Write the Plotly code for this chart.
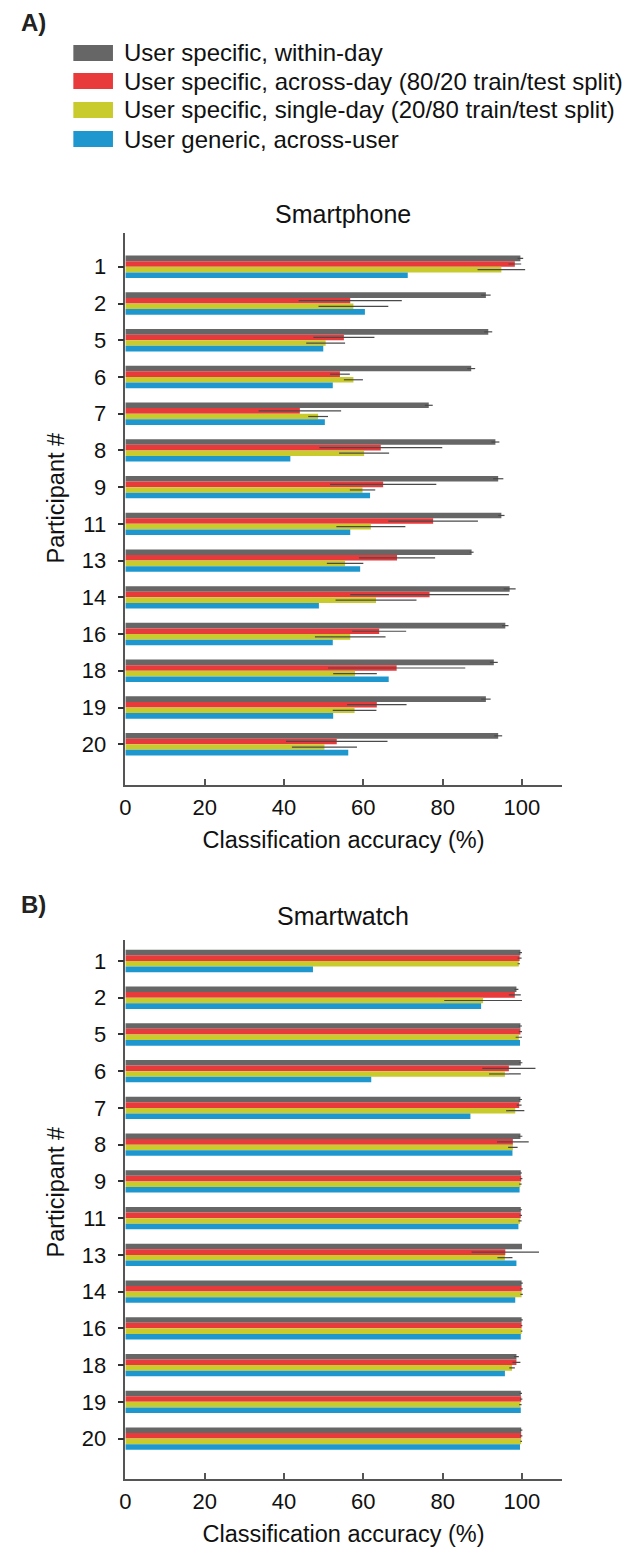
import plotly.graph_objects as go

participants = ["1", "2", "5", "6", "7", "8", "9", "11", "13", "14", "16", "18", "19", "20"]

series_names = [
    "User specific, within-day",
    "User specific, across-day (80/20 train/test split)",
    "User specific, single-day (20/80 train/test split)",
    "User generic, across-user",
]
series_colors = ["#666666", "#E8393B", "#C9CA2C", "#1E97CF"]

# Smartphone
phone_within = [99.6, 90.9, 91.5, 87.2, 76.5, 93.3, 94.0, 94.8, 87.3, 96.9, 95.8, 92.9, 90.9, 94.0]
phone_within_err = [0.7, 1.2, 1.0, 1.0, 1.0, 1.0, 1.3, 0.8, 0.5, 1.5, 0.8, 1.0, 1.2, 1.0]
phone_across = [98.2, 56.7, 55.1, 54.1, 44.0, 64.4, 65.0, 77.6, 68.5, 76.7, 64.0, 68.4, 63.4, 53.3]
phone_across_err = [1.6, 13.0, 7.7, 2.5, 10.4, 15.5, 13.4, 11.3, 9.6, 20.0, 6.8, 17.3, 7.5, 12.8]
phone_single = [94.8, 57.5, 50.5, 57.5, 48.6, 60.2, 59.8, 61.9, 55.4, 63.2, 56.7, 57.9, 57.8, 50.2]
phone_single_err = [6.0, 8.8, 4.9, 2.4, 2.5, 6.3, 3.2, 8.7, 4.6, 10.2, 8.9, 5.5, 5.5, 8.2]
phone_generic = [71.2, 60.4, 49.9, 52.3, 50.3, 41.6, 61.7, 56.7, 59.2, 48.8, 52.3, 66.4, 52.4, 56.2]

# Smartwatch
watch_within = [99.6, 98.6, 99.6, 99.7, 99.6, 99.6, 99.7, 99.7, 100.0, 99.9, 99.9, 98.6, 99.7, 99.8]
watch_within_err = [0.4, 0.5, 0.4, 0.4, 0.4, 0.5, 0.3, 0.3, 0.0, 0.3, 0.3, 0.6, 0.3, 0.3]
watch_across = [99.4, 98.2, 99.6, 96.7, 99.3, 97.7, 99.8, 99.7, 95.8, 99.9, 99.9, 98.6, 99.8, 99.8]
watch_across_err = [0.5, 1.5, 0.4, 6.7, 0.6, 4.0, 0.3, 0.3, 8.5, 0.3, 0.2, 1.0, 0.3, 0.3]
watch_single = [99.2, 90.2, 99.2, 95.7, 98.3, 97.7, 99.6, 99.5, 95.7, 99.9, 99.9, 97.5, 99.6, 99.8]
watch_single_err = [0.3, 9.8, 0.8, 4.0, 2.3, 1.2, 0.3, 0.4, 1.9, 0.3, 0.2, 0.7, 0.3, 0.2]
watch_generic = [47.3, 89.7, 99.5, 62.0, 87.0, 97.6, 99.4, 99.1, 98.6, 98.3, 99.7, 95.7, 99.7, 99.5]

x_ticks = [0, 20, 40, 60, 80, 100]

W, H = 628, 1547
FONT = "Arial, Liberation Sans, sans-serif"

phone_vals = [phone_within, phone_across, phone_single, phone_generic]
phone_errs = [phone_within_err, phone_across_err, phone_single_err, None]
watch_vals = [watch_within, watch_across, watch_single, watch_generic]
watch_errs = [watch_within_err, watch_across_err, watch_single_err, None]

fig = go.Figure()


def add_panel(vals, errs, xa, ya):
    for i in range(4):
        err = None
        if errs[i] is not None:
            err = dict(type="data", array=errs[i], visible=True, color="#4a4a4a",
                       thickness=1.2, width=0)
        fig.add_trace(go.Bar(
            y=participants, x=vals[i], orientation="h", name=series_names[i],
            marker=dict(color=series_colors[i], line=dict(width=0)),
            error_x=err, xaxis=xa, yaxis=ya, showlegend=False,
            offsetgroup=str(i),
        ))


add_panel(phone_vals, phone_errs, "x", "y")
add_panel(watch_vals, watch_errs, "x2", "y2")


def py(ypx):
    return 1 - ypx / H


def px(xpx):
    return xpx / W


x_dom = [px(120.5), px(561)]
TICKF = dict(family=FONT, size=22, color="#111111")
TITLEF = dict(family=FONT, size=23.5, color="#111111")
axis_common = dict(showline=True, linecolor="#555555", linewidth=1.6,
                   showgrid=False, zeroline=False, tickfont=TICKF)


def xaxis_cfg(anchor):
    return dict(domain=x_dom, range=[0, 110], tickvals=x_ticks, ticks="inside",
                ticklen=6, tickwidth=1.5, tickcolor="#555555", anchor=anchor,
                ticklabelstandoff=2,
                title=dict(text="Classification accuracy (%)", standoff=12, font=TITLEF),
                **axis_common)


def yaxis_cfg(anchor, dom, rng):
    return dict(domain=dom, range=rng, type="category",
                ticks="outside", ticklen=6, tickwidth=1.5, tickcolor="#333333",
                anchor=anchor, ticklabelstandoff=7, **axis_common)


fig.update_layout(
    xaxis=xaxis_cfg("y"),
    yaxis=yaxis_cfg("x", [py(785), py(233)], [14.11, -0.92]),
    xaxis2=xaxis_cfg("y2"),
    yaxis2=yaxis_cfg("x2", [py(1479), py(940)], [14.1, -0.57]),
    barmode="group", bargap=0.39, bargroupgap=0,
    width=W, height=H, margin=dict(l=0, r=0, t=0, b=0),
    paper_bgcolor="white", plot_bgcolor="white",
    font=dict(family=FONT, color="#111111"),
    showlegend=False,
)

annotations = [
    dict(text="<b>A)</b>", x=px(13), y=py(23), xanchor="left", yanchor="middle",
         font=dict(family=FONT, size=24, color="#222222")),
    dict(text="<b>B)</b>", x=px(13), y=py(904), xanchor="left", yanchor="middle",
         font=dict(family=FONT, size=24, color="#222222")),
    dict(text="Smartphone", x=px(340), y=py(214), xanchor="center", yanchor="middle",
         font=dict(family=FONT, size=25, color="#111111")),
    dict(text="Smartwatch", x=px(340), y=py(916), xanchor="center", yanchor="middle",
         font=dict(family=FONT, size=25, color="#111111")),
    dict(text="Participant #", x=px(50), y=py(498), xanchor="center", yanchor="middle",
         textangle=-90, font=TITLEF),
    dict(text="Participant #", x=px(50), y=py(1192), xanchor="center", yanchor="middle",
         textangle=-90, font=TITLEF),
]

shapes = []
row_y = [53, 81, 110, 139]
for i in range(4):
    shapes.append(dict(type="rect", xref="paper", yref="paper",
                       x0=px(68), x1=px(108), y0=py(row_y[i] + 8), y1=py(row_y[i] - 8),
                       fillcolor=series_colors[i], line=dict(width=0)))
    annotations.append(dict(text=series_names[i], x=px(117), y=py(row_y[i]),
                            xanchor="left", yanchor="middle",
                            font=dict(family=FONT, size=24, color="#111111")))

for a in annotations:
    a.update(xref="paper", yref="paper", showarrow=False)

fig.update_layout(annotations=annotations, shapes=shapes)

fig.write_html("out.html", config={"displayModeBar": False},
               post_script="document.body.style.margin='0px';")
